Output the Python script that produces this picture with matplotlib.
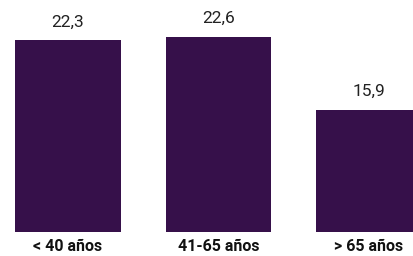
import matplotlib.pyplot as plt

grupos = ["< 40 años", "41-65 años", "> 65 años"]
valores = [22.3, 22.6, 15.9]
etiquetas = ["22,3", "22,6", "15,9"]

plt.rcParams['font.family'] = ['Roboto', 'DejaVu Sans']

fig = plt.figure(figsize=(4.14, 2.56), dpi=100)
ax = fig.add_axes([0, 24 / 256, 1, 232 / 256])

x = range(len(grupos))
barras = ax.bar(x, valores, width=0.704, color='#36104a')

# etiquetas de valor encima de cada barra
for b, txt in zip(barras, etiquetas):
    ax.annotate(txt, (b.get_x() + b.get_width() / 2, b.get_height()),
                xytext=(0, 10), textcoords='offset points',
                ha='center', va='baseline', fontsize=12.5, color='#222222')

ax.set_xlim(-0.452, 2.299)
ax.set_ylim(4.73, 26.0)
ax.set_xticks(list(x))
ax.set_xticklabels(grupos, fontsize=11.5, fontweight='bold', color='#111111')
ax.tick_params(axis='x', length=0, pad=5)
ax.set_yticks([])
for s in ax.spines.values():
    s.set_visible(False)

fig.savefig('out.png', dpi=100)
